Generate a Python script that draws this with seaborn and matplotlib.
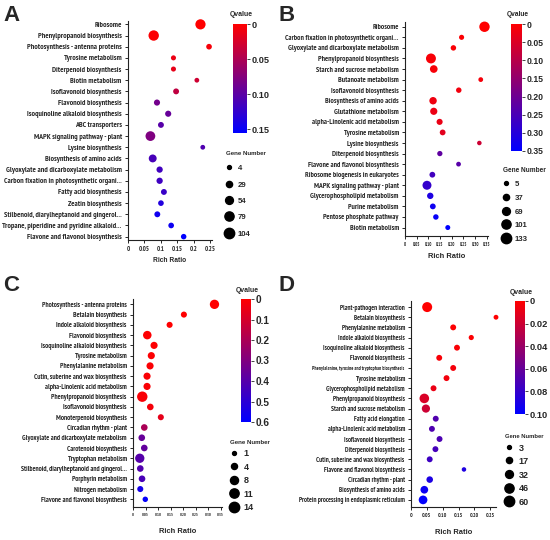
import os
import numpy as np
import pandas as pd
import matplotlib
matplotlib.use('Agg')
import matplotlib.pyplot as plt
import seaborn as sns
from matplotlib import font_manager as fm
from matplotlib.colors import LinearSegmentedColormap, Normalize
from matplotlib.cm import ScalarMappable
from matplotlib.lines import Line2D

# ---------------- data ----------------
# A
a_terms = ['Ribosome', 'Phenylpropanoid biosynthesis', 'Photosynthesis - antenna proteins',
           'Tyrosine metabolism', 'Diterpenoid biosynthesis', 'Biotin metabolism',
           'Isoflavonoid biosynthesis', 'Flavonoid biosynthesis', 'Isoquinoline alkaloid biosynthesis',
           'ABC transporters', 'MAPK signaling pathway - plant', 'Lysine biosynthesis',
           'Biosynthesis of amino acids', 'Glyoxylate and dicarboxylate metabolism',
           'Carbon fixation in photosynthetic organi...', 'Fatty acid biosynthesis', 'Zeatin biosynthesis',
           'Stilbenoid, diarylheptanoid and gingerol...', 'Tropane, piperidine and pyridine alkaloid...',
           'Flavone and flavonol biosynthesis']
a_ratio = [0.220, 0.078, 0.246, 0.138, 0.138, 0.209, 0.146, 0.088, 0.122, 0.100,
           0.068, 0.227, 0.075, 0.096, 0.096, 0.109, 0.100, 0.089, 0.131, 0.169]
a_qval = [0.000, 0.002, 0.006, 0.012, 0.015, 0.030, 0.039, 0.085, 0.093, 0.102,
          0.078, 0.107, 0.112, 0.116, 0.117, 0.121, 0.135, 0.145, 0.147, 0.155]
a_genes = [100, 110, 22, 15, 15, 12, 25, 28, 28, 25, 90, 12, 55, 30, 30, 25, 22, 25, 22, 20]

# B
b_terms = ['Ribosome', 'Carbon fixation in photosynthetic organi...', 'Glyoxylate and dicarboxylate metabolism',
           'Phenylpropanoid biosynthesis', 'Starch and sucrose metabolism', 'Butanoate metabolism',
           'Isoflavonoid biosynthesis', 'Biosynthesis of amino acids', 'Glutathione metabolism',
           'alpha-Linolenic acid metabolism', 'Tyrosine metabolism', 'Lysine biosynthesis',
           'Diterpenoid biosynthesis', 'Flavone and flavonol biosynthesis', 'Ribosome biogenesis in eukaryotes',
           'MAPK signaling pathway - plant', 'Glycerophospholipid metabolism', 'Purine metabolism',
           'Pentose phosphate pathway', 'Biotin metabolism']
b_ratio = [0.340, 0.242, 0.207, 0.111, 0.123, 0.324, 0.230, 0.120, 0.123, 0.148,
           0.161, 0.318, 0.149, 0.229, 0.117, 0.094, 0.108, 0.119, 0.132, 0.183]
b_qval = [0.000, 0.005, 0.008, 0.010, 0.012, 0.015, 0.018, 0.022, 0.026, 0.030,
          0.040, 0.070, 0.220, 0.230, 0.260, 0.280, 0.310, 0.330, 0.340, 0.350]
b_genes = [133, 20, 25, 120, 65, 15, 25, 60, 55, 35, 30, 12, 22, 15, 30, 95, 40, 30, 25, 18]

# C
c_terms = ['Photosynthesis - antenna proteins', 'Betalain biosynthesis', 'Indole alkaloid biosynthesis',
           'Flavonoid biosynthesis', 'Isoquinoline alkaloid biosynthesis', 'Tyrosine metabolism',
           'Phenylalanine metabolism', 'Cutin, suberine and wax biosynthesis', 'alpha-Linolenic acid metabolism',
           'Phenylpropanoid biosynthesis', 'Isoflavonoid biosynthesis', 'Monoterpenoid biosynthesis',
           'Circadian rhythm - plant', 'Glyoxylate and dicarboxylate metabolism', 'Carotenoid biosynthesis',
           'Tryptophan metabolism', 'Stilbenoid, diarylheptanoid and gingerol...', 'Porphyrin metabolism',
           'Nitrogen metabolism', 'Flavone and flavonol biosynthesis']
c_ratio = [0.325, 0.203, 0.146, 0.057, 0.084, 0.073, 0.068, 0.056, 0.056, 0.037,
           0.069, 0.111, 0.045, 0.035, 0.045, 0.027, 0.029, 0.036, 0.029, 0.049]
c_qval = [0.000, 0.002, 0.004, 0.005, 0.006, 0.008, 0.010, 0.012, 0.014, 0.015,
          0.025, 0.060, 0.200, 0.360, 0.370, 0.400, 0.410, 0.430, 0.550, 0.590]
c_genes = [11, 4, 4, 9, 6, 6, 6, 6, 6, 14, 5, 4, 5, 5, 5, 11, 5, 5, 4, 3]

# D
d_terms = ['Plant-pathogen interaction', 'Betalain biosynthesis', 'Phenylalanine metabolism',
           'Indole alkaloid biosynthesis', 'Isoquinoline alkaloid biosynthesis', 'Flavonoid biosynthesis',
           'Phenylalanine, tyrosine and tryptophan biosynthesis', 'Tyrosine metabolism',
           'Glycerophospholipid metabolism', 'Phenylpropanoid biosynthesis', 'Starch and sucrose metabolism',
           'Fatty acid elongation', 'alpha-Linolenic acid metabolism', 'Isoflavonoid biosynthesis',
           'Diterpenoid biosynthesis', 'Cutin, suberine and wax biosynthesis', 'Flavone and flavonol biosynthesis',
           'Circadian rhythm - plant', 'Biosynthesis of amino acids', 'Protein processing in endoplasmic reticulum']
d_ratio = [0.051, 0.268, 0.133, 0.190, 0.145, 0.089, 0.133, 0.112, 0.071, 0.042,
           0.047, 0.078, 0.066, 0.090, 0.077, 0.059, 0.167, 0.059, 0.042, 0.038]
d_qval = [0.0000, 0.0005, 0.0010, 0.0015, 0.0020, 0.0030, 0.0040, 0.0050, 0.0080, 0.0150,
          0.0200, 0.0680, 0.0690, 0.0700, 0.0730, 0.0760, 0.0880, 0.0890, 0.0950, 0.0990]
d_genes = [55, 8, 15, 10, 15, 15, 15, 15, 15, 50, 35, 15, 15, 15, 15, 15, 6, 20, 30, 40]

# colour bar, legend and axis ticks
a_qticks, a_qlabels = [0, 0.05, 0.10, 0.15], ['0', '0.05', '0.10', '0.15']
b_qticks = [0, 0.05, 0.10, 0.15, 0.20, 0.25, 0.30, 0.35]
b_qlabels = ['0', '0.05', '0.10', '0.15', '0.20', '0.25', '0.30', '0.35']
c_qticks = [0, 0.1, 0.2, 0.3, 0.4, 0.5, 0.6]
c_qlabels = ['0', '0.1', '0.2', '0.3', '0.4', '0.5', '0.6']
d_qticks = [0, 0.02, 0.04, 0.06, 0.08, 0.10]
d_qlabels = ['0', '0.02', '0.04', '0.06', '0.08', '0.10']

a_gticks = [4, 29, 54, 79, 104]
b_gticks = [5, 37, 69, 101, 133]
c_gticks = [1, 4, 8, 11, 14]
d_gticks = [3, 17, 32, 46, 60]

a_xticks, a_xlabels = [0, 0.05, 0.1, 0.15, 0.2, 0.25], ['0', '0.05', '0.1', '0.15', '0.2', '0.25']
b_xticks = [0, 0.05, 0.10, 0.15, 0.20, 0.25, 0.30, 0.35]
b_xlabels = ['0', '0.05', '0.10', '0.15', '0.20', '0.25', '0.30', '0.35']
c_xticks, c_xlabels = b_xticks, b_xlabels
d_xticks = [0, 0.05, 0.10, 0.15, 0.20, 0.25]
d_xlabels = ['0', '0.05', '0.10', '0.15', '0.20', '0.25']

# ---------------- style ----------------
sns.set_style('white')
plt.rcParams['font.family'] = ['Liberation Sans', 'DejaVu Sans']
plt.rcParams['font.weight'] = 'bold'


def is_bold(f):
    w = f.weight
    return (isinstance(w, int) and w >= 600) or (isinstance(w, str) and 'bold' in w.lower())


def narrow_font():
    # a bold condensed face if one is installed, otherwise plain bold
    cands = [f for f in fm.fontManager.ttflist if f.stretch != 'normal' and is_bold(f)]
    prefs = [lambda f: 'Narrow' in f.name or 'Narrow' in os.path.basename(f.fname),
             lambda f: 'DejaVuSansCondensed' in os.path.basename(f.fname),
             lambda f: 'Condensed' in os.path.basename(f.fname) and 'Extra' not in f.fname]
    for p in prefs:
        hit = [f for f in cands if p(f) and 'Italic' not in f.fname and 'Mono' not in f.fname
               and 'ExtraBold' not in f.fname and 'SemiBold' not in f.fname]
        if hit:
            return fm.FontProperties(fname=hit[0].fname)
    return fm.FontProperties(family='Liberation Sans', weight='bold')


NARROW_FP = narrow_font()
BOLD = fm.FontProperties(family='Liberation Sans', weight='bold')
cmap = LinearSegmentedColormap.from_list('qv', ['#ff0000', '#0000ff'])
W, H = 550, 540
S_MIN, S_MAX = 8, 56

fig = plt.figure(figsize=(5.5, 5.4), dpi=100)
renderer = fig.canvas.get_renderer()


def sized(fp, size):
    fp = fp.copy()
    fp.set_size(size)
    return fp


def fit(text, px, fp=None):
    # font size (pt) that makes `text` about `px` pixels wide
    t = fig.text(0, 0, text, fontproperties=sized(fp or NARROW_FP, 10))
    w = t.get_window_extent(renderer).width
    t.remove()
    return 10 * px / w


def fx(px):
    return px / W


def fy(py):
    return 1 - py / H


def draw_panel(letter, terms, ratio, qval, genes, box, pads, xmax, xticks, xlabels,
               cbox, qmax, qticks, qlabels, gticks, leg_xy, letter_xy, fits, pitch, special=None):
    df = pd.DataFrame({'term': terms, 'ratio': ratio, 'q': qval, 'genes': genes})
    left, top, right, bottom = box
    ax = fig.add_axes([fx(left), fy(bottom), (right - left) / W, (bottom - top) / H])
    sns.scatterplot(data=df, x='ratio', y='term', hue='q', size='genes', palette=cmap,
                    hue_norm=(0, qmax), sizes=(S_MIN, S_MAX), size_norm=(gticks[0], gticks[-1]),
                    edgecolor='none', linewidth=0, legend=False, ax=ax, clip_on=False, zorder=3)
    n = len(terms)
    ax.set_yticks(range(n))
    ax.set_yticklabels(terms)
    ysize = fit(*fits['y'])
    for lbl in ax.get_yticklabels():
        t = lbl.get_text()
        lbl.set_fontproperties(sized(NARROW_FP, fit(t, special[t]) if special and t in special else ysize))
    ax.set_ylim(n - 1 + pads[1], -pads[0])
    ax.set_xlim(0, xmax)
    ax.set_xticks(xticks)
    ax.set_xticklabels(xlabels)
    xsize = fit('0.05', fits['x'])
    for lbl in ax.get_xticklabels():
        lbl.set_fontproperties(sized(NARROW_FP, xsize))
    ax.set_ylabel('')
    ax.set_xlabel('Rich Ratio', fontproperties=sized(BOLD, fit('Rich Ratio', fits['rr'], BOLD)),
                  labelpad=fits['lp'])
    sns.despine(ax=ax)
    for sp in ['left', 'bottom']:
        ax.spines[sp].set_linewidth(0.8)
        ax.spines[sp].set_color('#222222')
    ax.tick_params(axis='y', direction='out', length=2.5, width=0.7, left=True, pad=2)
    ax.tick_params(axis='x', direction='out', length=2.5, width=0.7, bottom=True, pad=1.5)

    # colour bar
    cl, ct, cr, cb_ = cbox
    cax = fig.add_axes([fx(cl), fy(cb_), (cr - cl) / W, (cb_ - ct) / H])
    cb = fig.colorbar(ScalarMappable(norm=Normalize(0, qmax), cmap=cmap), cax=cax)
    cb.ax.invert_yaxis()
    cb.set_ticks(qticks)
    cb.set_ticklabels(qlabels)
    cb.outline.set_visible(False)
    cax.tick_params(length=2, width=0.6, pad=1)
    cfs = fit(fits['cb'][0], fits['cb'][1], BOLD)
    for lbl in cax.get_yticklabels():
        lbl.set_fontproperties(sized(BOLD, cfs))
    fig.text(fx((cl + cr) / 2 + 1), fy(ct - 9), 'Qvalue', ha='center', va='center',
             fontproperties=sized(BOLD, fit('Qvalue', fits['qv'], BOLD)))

    # gene number legend
    handles = []
    for g in gticks:
        s = S_MIN + (g - gticks[0]) / (gticks[-1] - gticks[0]) * (S_MAX - S_MIN)
        handles.append(Line2D([], [], marker='o', ls='', color='black', markersize=np.sqrt(s)))
    lfs = fit(str(gticks[-1]), fits['lg'], BOLD)
    lfs_px = lfs * 100 / 72
    fig.legend(handles, [str(g) for g in gticks], title='Gene Number', loc='upper left',
               bbox_to_anchor=(fx(leg_xy[0]), fy(leg_xy[1])), frameon=False,
               prop=sized(BOLD, lfs),
               title_fontproperties=sized(BOLD, fit('Gene Number', fits['gn'], BOLD)),
               labelspacing=(pitch - lfs_px) / lfs_px, handleheight=1.0,
               handlelength=0.8, handletextpad=0.7,
               borderpad=0, borderaxespad=0, alignment='left')

    fig.text(fx(letter_xy[0]), fy(letter_xy[1]), letter, ha='left', va='top',
             fontproperties=sized(BOLD, 16))
    return ax


long_label = 'Glyoxylate and dicarboxylate metabolism'
draw_panel('A', a_terms, a_ratio, a_qval, a_genes, (128, 21, 212, 240), (0.3, 0.3),
           0.255, a_xticks, a_xlabels, (233, 24, 247, 133), 0.155, a_qticks, a_qlabels,
           a_gticks, (226, 151), (3, 5),
           {'y': (long_label, 114), 'x': 11, 'rr': 33, 'lp': 3, 'cb': ('0.05', 18),
            'qv': 23, 'lg': 13, 'gn': 40}, 16)
draw_panel('B', b_terms, b_ratio, b_qval, b_genes, (405, 22, 488, 236), (0.45, 0.8),
           0.355, b_xticks, b_xlabels, (511, 24, 522, 151), 0.35, b_qticks, b_qlabels,
           b_gticks, (503, 167), (278, 5),
           {'y': (long_label, 110), 'x': 7.5, 'rr': 37, 'lp': 4.5, 'cb': ('0.05', 17),
            'qv': 22, 'lg': 13, 'gn': 43}, 13.5)
draw_panel('C', c_terms, c_ratio, c_qval, c_genes, (133, 299, 222, 507), (0.52, 0.75),
           0.355, c_xticks, c_xlabels, (241, 299, 251, 422), 0.6, c_qticks, c_qlabels,
           c_gticks, (230, 440), (3, 275),
           {'y': (long_label, 106), 'x': 7, 'rr': 37, 'lp': 8, 'cb': ('0.1', 14),
            'qv': 23, 'lg': 10, 'gn': 40}, 13.3)
draw_panel('D', d_terms, d_ratio, d_qval, d_genes, (411, 301, 496, 507), (0.6, 0.7),
           0.268, d_xticks, d_xlabels, (515, 301, 525, 414), 0.10, d_qticks, d_qlabels,
           d_gticks, (505, 434), (278, 275),
           {'y': ('Protein processing in endoplasmic reticulum', 106), 'x': 9, 'rr': 37, 'lp': 8,
            'cb': ('0.02', 18), 'qv': 23, 'lg': 10, 'gn': 39}, 13.4,
           special={'Phenylalanine, tyrosine and tryptophan biosynthesis': 91})

fig.savefig('out.png', dpi=100)
